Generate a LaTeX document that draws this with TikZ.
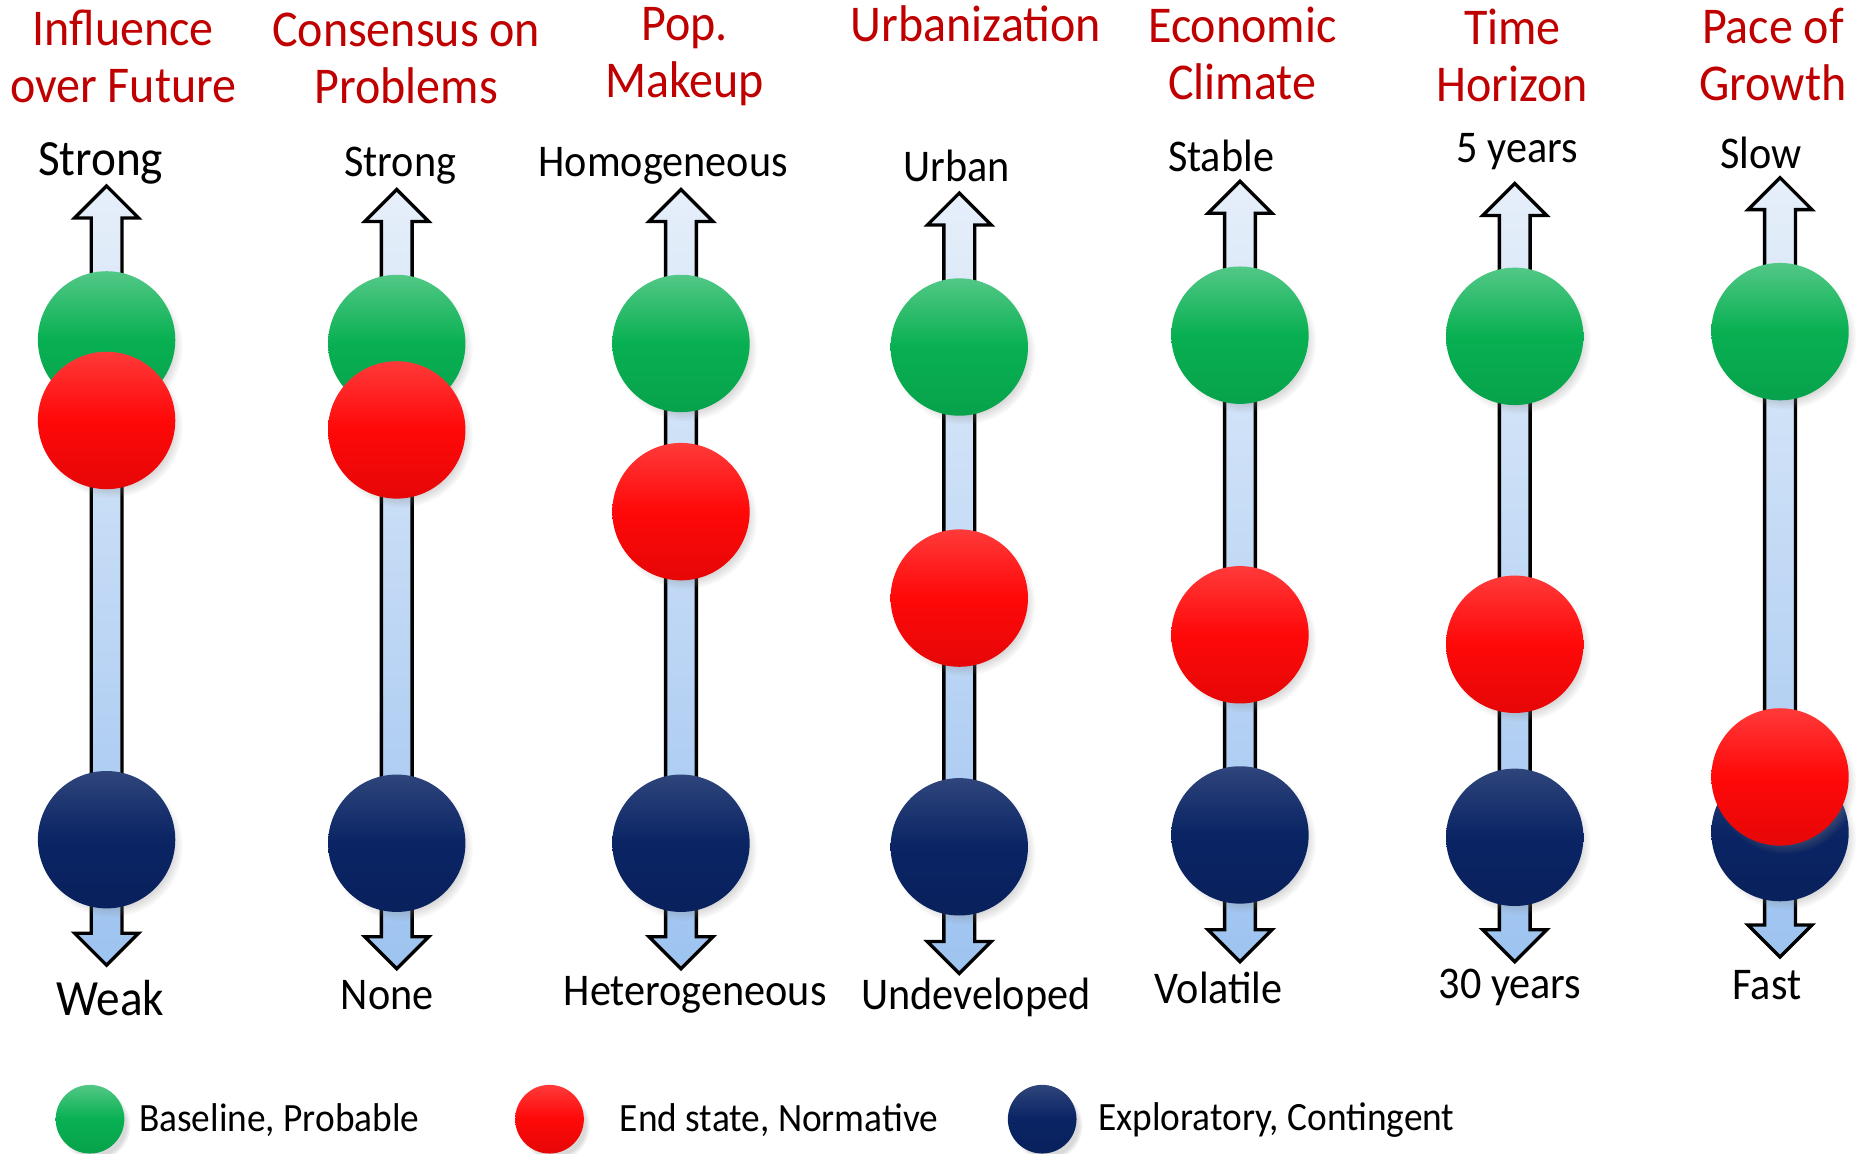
\documentclass[tikz,border=0pt]{standalone}
\usepackage{fontspec}
\setmainfont[FakeStretch=0.93]{Carlito}
\usetikzlibrary{shadows,fadings}

\definecolor{titlered}{RGB}{192,0,0}
\definecolor{ballgreen}{RGB}{8,176,82}
\definecolor{ballred}{RGB}{255,8,8}
\definecolor{ballnavy}{RGB}{10,36,100}
\definecolor{axistop}{RGB}{230,239,250}
\definecolor{axisbot}{RGB}{157,195,240}

\tikzset{
  ball/.style={circle, minimum size=11.6mm, inner sep=0pt,
    circular drop shadow={shadow xshift=0.4mm, shadow yshift=-0.5mm, opacity=0.3, shadow scale=1.04}},
  keyball/.style={minimum size=5.8mm},
  baseball/.style={ball, top color=ballgreen!70!white, bottom color=ballgreen!92!black, middle color=ballgreen},
  endball/.style={ball, top color=ballred!80!white, bottom color=ballred!90!black, middle color=ballred},
  explball/.style={ball, top color=ballnavy!85!white, bottom color=ballnavy!92!black, middle color=ballnavy},
  axis/.style={top color=axistop, bottom color=axisbot, draw=black, line width=0.8pt, line join=miter},
  heading/.style={text=titlered, align=center, font=\fontsize{12.4}{13.7}\selectfont},
  pole/.style={font=\fontsize{10.9}{13}\selectfont},
  bigpole/.style={font=\fontsize{12.2}{14}\selectfont},
  keytext/.style={anchor=west, font=\fontsize{9.65}{12}\selectfont}
}

\begin{document}
\begin{tikzpicture}[x=0.1mm,y=-0.1mm]
\useasboundingbox (0,0) rectangle (1568,974);

% Draw axes and scenario balls
\foreach \x/\ya/\yb/\g/\r/\n [count=\i] in {
    90/157/815/287/355/709,
    335/160/818/290/363/712,
    575/160/818/290/432/712,
    810/163/822/293/505/715,
    1047/153/812/283/536/705,
    1279/155/812/284/544/707,
    1503/150/808/280/656/703} {
    \path[axis] (\x,\ya) -- ++(27,27) -- ++(-14,0) -- (\x+13,\yb-27) -- ++(14,0)
        -- (\x,\yb) -- ++(-27,-27) -- ++(14,0) -- (\x-13,\ya+27) -- ++(-14,0) -- cycle;
    \node[baseball] at (\x,\g) (g\i) {};
    \node[explball] at (\x,\n) (n\i) {};
    \node[endball] at (\x,\r) (r\i) {};
}

% Headings
\node[heading] at (104,48) (h1) {Influence\\over Future};
\node[heading] at (343,49) (h2) {Consensus on\\Problems};
\node[heading] at (578,48) (h3) {Pop.\\Makeup};
\node[heading] at (824,20) (h4) {Urbanization};
\node[heading] at (1049,45) (h5) {Economic\\Climate};
\node[heading] at (1277,47) (h6) {Time\\Horizon};
\node[heading] at (1497,46) (h7) {Pace of\\Growth};

% Poles
\node[bigpole] at (85,138) (t1) {Strong};
\node[pole] at (338,140) (t2) {Strong};
\node[pole] at (560,140) (t3) {Homogeneous};
\node[pole] at (808,140) (t4) {Urban};
\node[pole] at (1031,132) (t5) {Stable};
\node[pole] at (1281,128) (t6) {5 years};
\node[pole] at (1487,129) (t7) {Slow};

\node[bigpole] at (93,843) (b1) {Weak};
\node[pole] at (327,840) (b2) {None};
\node[pole] at (587,840) (b3) {Heterogeneous};
\node[pole] at (824,842) (b4) {Undeveloped};
\node[pole] at (1029,834) (b5) {Volatile};
\node[pole] at (1275,834) (b6) {30 years};
\node[pole] at (1492,832) (b7) {Fast};

% Legend
\node[baseball,keyball] at (76,945) (kg) {};
\node[keytext] at (105,946) (kgt) {Baseline, Probable};
\node[endball,keyball] at (464,945) (kr) {};
\node[keytext] at (511,946) (krt) {End state, Normative};
\node[explball,keyball] at (880,945) (kn) {};
\node[keytext] at (915,946) (knt) {Exploratory, Contingent};

\end{tikzpicture}
\end{document}
